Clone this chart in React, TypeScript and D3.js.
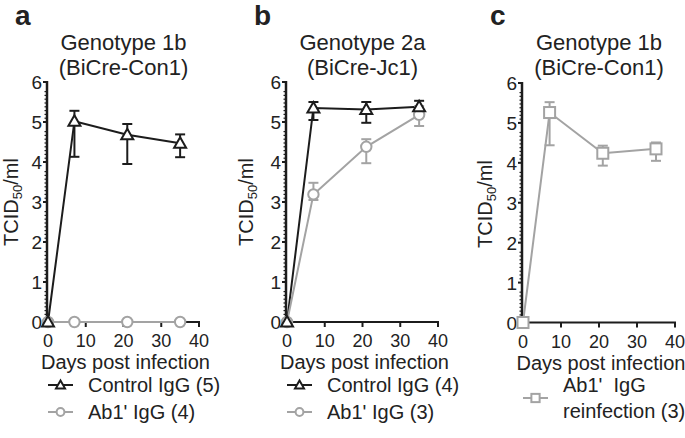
import React from "react";
import * as d3 from "d3";

const days = [0, 7, 21, 35];
const xTicks = [0, 10, 20, 30, 40];
const yTicks = [0, 1, 2, 3, 4, 5, 6];

const aControlMean = [0, 5.02, 4.68, 4.47];
const aControlUp = [0, 5.28, 4.95, 4.69];
const aControlLo = [0, 4.13, 3.95, 4.12];
const aAb1Mean = [0, 0, 0, 0];

const bControlMean = [0, 5.35, 5.31, 5.38];
const bControlUp = [0, 5.5, 5.5, 5.53];
const bControlLo = [0, 5.05, 4.98, 5.22];
const bAb1Mean = [0, 3.19, 4.38, 5.18];
const bAb1Up = [0, 3.48, 4.57, 5.4];
const bAb1Lo = [0, 3.05, 3.97, 4.9];

const cReinfMean = [0, 5.26, 4.24, 4.35];
const cReinfUp = [0, 5.52, 4.43, 4.51];
const cReinfLo = [0, 4.44, 3.93, 4.05];

const BLACK = "#1c1c1c";
const GRAY = "#a3a3a3";
const FONT = "'Liberation Sans', Arial, sans-serif";

type Series = {
  mean: number[];
  up?: number[];
  lo?: number[];
  color: string;
  shape: "triangle" | "circle" | "square";
};

function Marker({ shape, x, y, color, s = 1 }: { shape: string; x: number; y: number; color: string; s?: number }) {
  if (shape === "triangle") {
    const h = 6 * s;
    return (
      <path
        d={`M${x},${y - h} L${x + h},${y + h * 0.75} L${x - h},${y + h * 0.75} Z`}
        fill="white"
        stroke={color}
        strokeWidth={2}
      />
    );
  }
  if (shape === "circle") {
    return <circle cx={x} cy={y} r={5.2 * s} fill="white" stroke={color} strokeWidth={2} />;
  }
  const h = 5.5 * s;
  return <rect x={x - h} y={y - h} width={2 * h} height={2 * h} fill="white" stroke={color} strokeWidth={2} />;
}

function Panel({
  letter,
  title1,
  title2,
  x0,
  x1,
  y0,
  y6,
  ylabX,
  ylabY,
  series,
}: {
  letter: string;
  title1: string;
  title2: string;
  x0: number;
  x1: number;
  y0: number;
  y6: number;
  ylabX: number;
  ylabY: number;
  series: Series[];
}) {
  const x = d3.scaleLinear().domain([0, 40]).range([x0, x1]);
  const y = d3.scaleLinear().domain([0, 6]).range([y0, y6]);
  const cx = (x0 + x1) / 2;
  const minor: number[] = [];
  for (let i = 0; i < 6; i++) for (let k = 1; k <= 8; k++) minor.push(i + k * 0.095);
  const lineGen = d3
    .line<number>()
    .x((_, i) => x(days[i]))
    .y((d) => y(d));
  return (
    <g fontFamily={FONT} fill="#222">
      <text x={x0 - 33} y={25} fontSize={28} fontWeight="bold">
        {letter}
      </text>
      <text x={cx} y={50} fontSize={22} textAnchor="middle">
        {title1}
      </text>
      <text x={cx} y={75} fontSize={22} textAnchor="middle">
        {title2}
      </text>
      {/* y axis */}
      <line x1={x0 - 1} x2={x0 - 1} y1={y(6) - 1} y2={y(0) + 1} stroke={BLACK} strokeWidth={2.5} />
      {yTicks.map((t) => (
        <g key={t}>
          <line x1={x0 - 5} x2={x0} y1={y(t)} y2={y(t)} stroke={BLACK} strokeWidth={2} />
          <text x={x0 - 6} y={y(t) + 7} fontSize={19} textAnchor="end">
            {t}
          </text>
        </g>
      ))}
      {minor.map((t, i) => (
        <line key={i} x1={x0 - 3.5} x2={x0} y1={y(t)} y2={y(t)} stroke={BLACK} strokeWidth={1.2} />
      ))}
      {/* x axis */}
      <line x1={x0 - 2} x2={x(40) + 1} y1={y0} y2={y0} stroke={BLACK} strokeWidth={2.2} />
      {xTicks.map((t) => (
        <g key={t}>
          {t > 0 && <line x1={x(t)} x2={x(t)} y1={y0} y2={y0 + 5} stroke={BLACK} strokeWidth={2} />}
          <text x={x(t)} y={y0 + 25} fontSize={18} textAnchor="middle">
            {t}
          </text>
        </g>
      ))}
      <text x={cx + 2} y={y0 + 47} fontSize={20} textAnchor="middle">
        Days post infection
      </text>
      <text transform={`translate(${ylabX},${ylabY}) rotate(-90)`} fontSize={20} textAnchor="middle">
        TCID
        <tspan fontSize={13} dy={4}>
          50
        </tspan>
        <tspan dy={-4}>/ml</tspan>
      </text>
      {/* data */}
      {series.map((s, si) => (
        <g key={si}>
          {s.up &&
            s.lo &&
            days.map((d, i) =>
              s.mean[i] === 0 ? null : (
                <g key={i} stroke={s.color} strokeWidth={2}>
                  <line x1={x(d)} x2={x(d)} y1={y(s.up![i])} y2={y(s.lo![i])} />
                  <line x1={x(d) - 5} x2={x(d) + 5} y1={y(s.up![i])} y2={y(s.up![i])} />
                  <line x1={x(d) - 5} x2={x(d) + 5} y1={y(s.lo![i])} y2={y(s.lo![i])} />
                </g>
              )
            )}
          <path d={lineGen(s.mean) || ""} fill="none" stroke={s.color} strokeWidth={2} />
        </g>
      ))}
      {series
        .slice()
        .reverse()
        .map((s, si) => (
          <g key={si}>
            {days.map((d, i) => (
              <Marker key={i} shape={s.shape} x={x(d)} y={y(s.mean[i])} color={s.color} />
            ))}
          </g>
        ))}
    </g>
  );
}

function LegendItem({ x, y, shape, color, lines }: { x: number; y: number; shape: string; color: string; lines: string[] }) {
  return (
    <g fontFamily={FONT} fill="#222">
      <line x1={x} x2={x + 25} y1={y} y2={y} stroke={color} strokeWidth={2} />
      <Marker shape={shape} x={x + 12.5} y={y} color={color} s={0.75} />
      {lines.map((l, i) => (
        <text key={i} x={x + 40} y={y + 7 + (i - (lines.length - 1) / 2) * 26} fontSize={20} xmlSpace="preserve">
          {l}
        </text>
      ))}
    </g>
  );
}

export default function App() {
  return (
    <svg width={685} height={438} style={{ position: "absolute", left: 0, top: 0, background: "white" }}>
      <Panel
        letter="a"
        title1="Genotype 1b"
        title2="(BiCre-Con1)"
        x0={48}
        x1={199}
        y0={322}
        y6={82}
        ylabX={18}
        ylabY={202}
        series={[
          { mean: aControlMean, up: aControlUp, lo: aControlLo, color: BLACK, shape: "triangle" },
          { mean: aAb1Mean, color: GRAY, shape: "circle" },
        ]}
      />
      <Panel
        letter="b"
        title1="Genotype 2a"
        title2="(BiCre-Jc1)"
        x0={287}
        x1={438}
        y0={322}
        y6={82}
        ylabX={253}
        ylabY={202}
        series={[
          { mean: bControlMean, up: bControlUp, lo: bControlLo, color: BLACK, shape: "triangle" },
          { mean: bAb1Mean, up: bAb1Up, lo: bAb1Lo, color: GRAY, shape: "circle" },
        ]}
      />
      <Panel
        letter="c"
        title1="Genotype 1b"
        title2="(BiCre-Con1)"
        x0={523}
        x1={675}
        y0={322.5}
        y6={83}
        ylabX={492}
        ylabY={204}
        series={[{ mean: cReinfMean, up: cReinfUp, lo: cReinfLo, color: GRAY, shape: "square" }]}
      />
      <LegendItem x={48} y={385} shape="triangle" color={BLACK} lines={["Control IgG (5)"]} />
      <LegendItem x={48} y={412} shape="circle" color={GRAY} lines={["Ab1' IgG (4)"]} />
      <LegendItem x={287} y={385} shape="triangle" color={BLACK} lines={["Control IgG (4)"]} />
      <LegendItem x={287} y={412} shape="circle" color={GRAY} lines={["Ab1' IgG (3)"]} />
      <LegendItem x={523} y={398} shape="square" color={GRAY} lines={["Ab1'  IgG", "reinfection (3)"]} />
    </svg>
  );
}
